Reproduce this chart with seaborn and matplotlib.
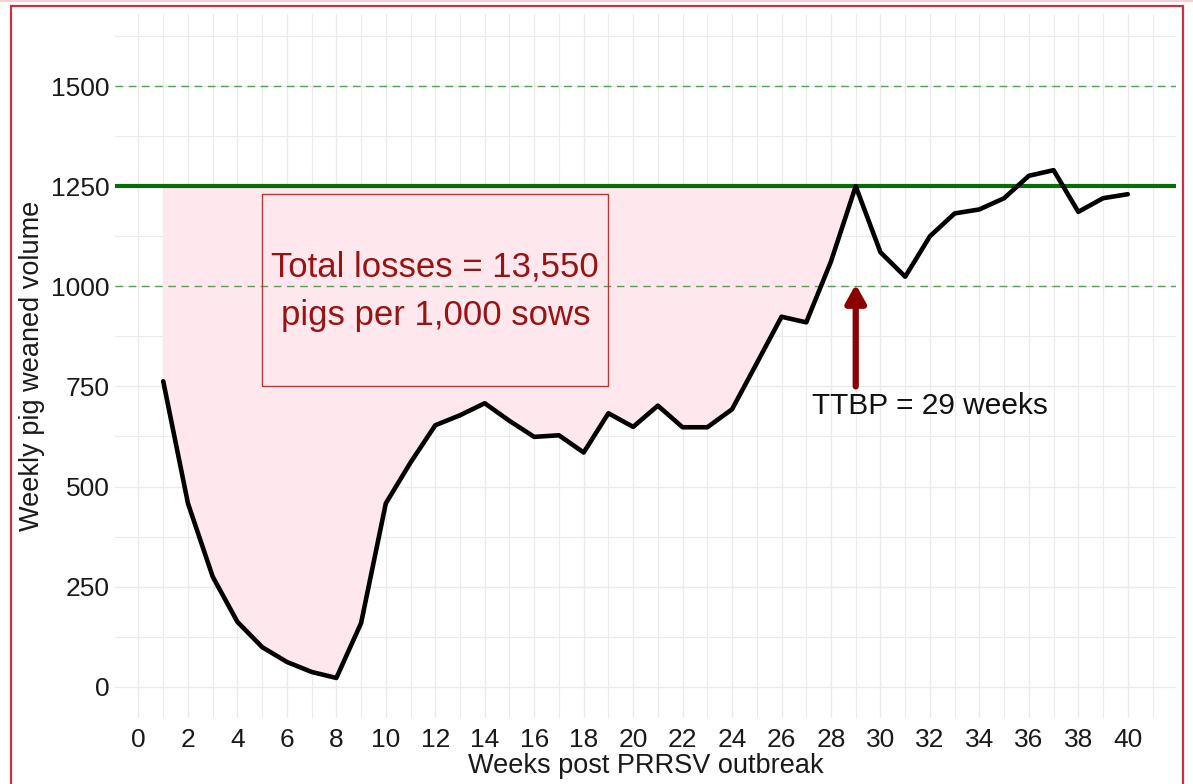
import matplotlib
matplotlib.use("Agg")
import matplotlib.pyplot as plt
from matplotlib.patches import Rectangle
from matplotlib.lines import Line2D
import numpy as np
import pandas as pd
import seaborn as sns

# ---- data ----
weeks = list(range(1, 41))
weaned = [763, 458, 275, 162, 99, 62, 37, 22, 159, 458,
          560, 653, 678, 708, 664, 624, 628, 585, 683, 649,
          702, 648, 648, 693, 808, 924, 910, 1062, 1250, 1085,
          1024, 1125, 1182, 1192, 1220, 1276, 1290, 1186, 1220, 1230]
baseline = 1250
ref_lines = [1000, 1500]
ttbp_week = 29
x_ticks = list(range(0, 41, 2))
y_ticks = [0, 250, 500, 750, 1000, 1250, 1500]
loss_text = "Total losses = 13,550\npigs per 1,000 sows"
ttbp_text = "TTBP = 29 weeks"
box_x = [5, 19]
box_y = [750, 1230]
arrow_y = [750, 1005]
x_label = "Weeks post PRRSV outbreak"
y_label = "Weekly pig weaned volume"

df = pd.DataFrame({"week": weeks, "weaned": weaned})

sns.set_theme(style="white")
plt.rcParams['font.family'] = ['Liberation Sans', 'DejaVu Sans']

fig = plt.figure(figsize=(11.93, 7.84), dpi=100)
ax = fig.add_axes([115/1193, 1 - 718/784, (1176-115)/1193, (718-14)/784])

ax.set_xlim(-0.95, 41.95)
ax.set_ylim(-78, 1680)

# grid
for xv in np.arange(0, 42, 1):
    ax.axvline(xv, color="#ebebeb", lw=1.0 if xv % 2 == 0 else 0.8, zorder=0)
for yv in np.arange(0, 1680, 125):
    ax.axhline(yv, color="#ebebeb", lw=1.0 if yv % 250 == 0 else 0.8, zorder=0)

# fill (losses)
n = ttbp_week
ax.fill_between(weeks[:n], weaned[:n], baseline, color="#ffe8ed", lw=0, zorder=1)

# reference lines
for r in ref_lines:
    ax.axhline(r, color="#55a055", lw=1.0, ls=(0, (5.5, 4)), zorder=2)
ax.axhline(baseline, color="#0b6b0b", lw=3.0, zorder=2)

# annotation box
ax.add_patch(Rectangle((box_x[0], box_y[0]), box_x[1]-box_x[0], box_y[1]-box_y[0],
                       fill=False, edgecolor="#b03a3a", lw=1.0, zorder=3))
ax.text((box_x[0]+box_x[1])/2, 988, loss_text, ha="center", va="center",
        color="#981414", fontsize=25, linespacing=1.6, zorder=4)

# main line
sns.lineplot(data=df, x="week", y="weaned", color="black", lw=3.3, ax=ax, zorder=5)

# arrow
ax.annotate("", xy=(ttbp_week, arrow_y[1]), xytext=(ttbp_week, arrow_y[0]),
            arrowprops=dict(arrowstyle="-|>,head_length=0.9,head_width=0.5",
                            color="#8b0000", lw=4.5, shrinkA=0, shrinkB=0),
            zorder=6)
ax.text(32, 700, ttbp_text, ha="center", va="center", color="#111111", fontsize=21.5, zorder=6)

ax.set_xticks(x_ticks)
ax.set_yticks(y_ticks)
ax.tick_params(axis="both", length=0, labelsize=19, colors="#1a1a1a")
ax.tick_params(axis="y", pad=4)
ax.tick_params(axis="x", pad=7)
ax.set_xlabel(x_label, fontsize=19.5, color="#1a1a1a", labelpad=1)
ax.set_ylabel(y_label, fontsize=19.5, color="#1a1a1a", labelpad=4)
for s in ax.spines.values():
    s.set_visible(False)

# figure border
fig.patches.append(Rectangle((11/1193, -0.1), (1183-11)/1193, 1 - 6/784 + 0.1,
                             transform=fig.transFigure, fill=False,
                             edgecolor="#c8323f", lw=1.6))
fig.lines.append(Line2D([0, 1], [1 - 0.8/784, 1 - 0.8/784], transform=fig.transFigure,
                        color="#f3d0d4", lw=1.5))

fig.savefig("out.png", dpi=100)
